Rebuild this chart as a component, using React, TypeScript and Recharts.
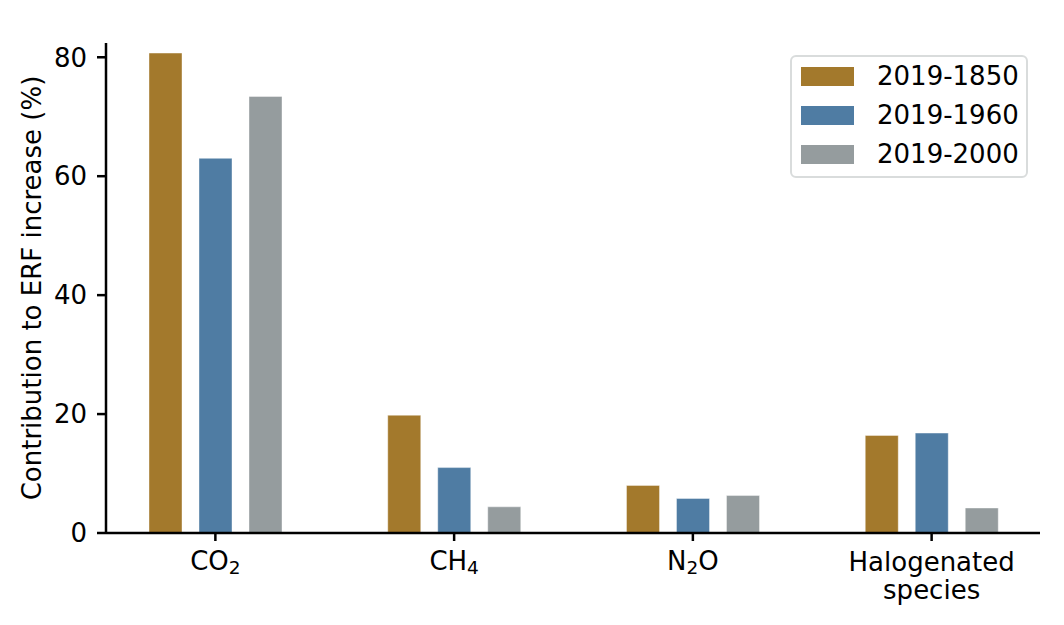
import { BarChart, Bar, XAxis, YAxis, Legend, Label } from "recharts";

const categories = ["CO2", "CH4", "N2O", "Halogenated species"];
const erf1850 = [80.7, 19.8, 8.0, 16.4];
const erf1960 = [63.0, 11.0, 5.8, 16.8];
const erf2000 = [73.4, 4.4, 6.3, 4.2];
const periods = ["2019-1850", "2019-1960", "2019-2000"];
const colors = ["#a3792c", "#4f7ca3", "#959c9e"];
const yTicks = [0, 20, 40, 60, 80];

const FONT = "'DejaVu Sans', sans-serif";
const FS = 26;

const data = categories.map((name, i) => ({
  name,
  p1850: erf1850[i],
  p1960: erf1960[i],
  p2000: erf2000[i],
}));
const keys = ["p1850", "p1960", "p2000"];

function CategoryTick(props: any) {
  const { x, y, payload } = props;
  const label: string = payload.value;
  if (label.includes(" ")) {
    const lines = label.split(" ");
    return (
      <g transform={`translate(${x},${y})`}>
        {lines.map((ln, i) => (
          <text
            key={ln}
            x={0}
            y={30 + i * 28}
            textAnchor="middle"
            fontFamily={FONT}
            fontSize={FS}
            fill="#000"
          >
            {ln}
          </text>
        ))}
      </g>
    );
  }
  // digits in the formula are drawn as subscripts
  const parts = label.match(/[A-Za-z]+|\d+/g) || [];
  return (
    <g transform={`translate(${x},${y})`}>
      <text x={0} y={29} textAnchor="middle" fontFamily={FONT} fontSize={FS} fill="#000">
        {parts.map((p, i) =>
          /\d/.test(p) ? (
            <tspan key={i} fontSize={18.5} dy={4}>
              {p}
            </tspan>
          ) : (
            <tspan key={i} dy={i > 0 ? -4 : 0}>
              {p}
            </tspan>
          )
        )}
      </text>
    </g>
  );
}

function LegendBox() {
  return (
    <div
      style={{
        width: 234,
        height: 119,
        border: "2px solid #d9dcdc",
        borderRadius: 6,
        background: "#fff",
        boxSizing: "content-box",
        position: "relative",
        fontFamily: FONT,
        fontSize: FS,
      }}
    >
      {periods.map((p, i) => (
        <div
          key={p}
          style={{
            position: "absolute",
            left: 9,
            top: 10 + i * 39,
            display: "flex",
            alignItems: "center",
            height: 19,
          }}
        >
          <div style={{ width: 53, height: 19, background: colors[i] }} />
          <span style={{ marginLeft: 23, color: "#000", lineHeight: "19px" }}>{p}</span>
        </div>
      ))}
    </div>
  );
}

export default function App() {
  return (
    <div style={{ width: 1064, height: 625, background: "#fff" }}>
      <style>{`body{margin:0}`}</style>
      <BarChart
        width={1064}
        height={625}
        data={data}
        margin={{ top: 43, right: 24, bottom: 12, left: 0 }}
        barSize={33}
        barGap={17}
      >
        <XAxis
          dataKey="name"
          height={80}
          padding={{ left: -10, right: -11 }}
          axisLine={{ stroke: "#000", strokeWidth: 2.5 }}
          tickLine={{ stroke: "#000", strokeWidth: 2.5 }}
          tickSize={8}
          tickMargin={0}
          tick={<CategoryTick />}
          interval={0}
        />
        <YAxis
          width={106}
          domain={[0, 82.4]}
          ticks={yTicks}
          axisLine={{ stroke: "#000", strokeWidth: 2.5 }}
          tickLine={{ stroke: "#000", strokeWidth: 2.5 }}
          tickSize={9}
          tickMargin={10}
          tick={{ fill: "#000", fontSize: FS, fontFamily: FONT }}
        >
          <Label
            content={(p: any) => {
              const vb = p.viewBox;
              const cy = vb.y + vb.height / 2;
              return (
                <text
                  x={41}
                  y={cy}
                  transform={`rotate(-90, 41, ${cy})`}
                  textAnchor="middle"
                  fontFamily={FONT}
                  fontSize={FS}
                  fill="#000"
                >
                  Contribution to ERF increase (%)
                </text>
              );
            }}
          />
        </YAxis>
        <Legend
          layout="vertical"
          align="center"
          verticalAlign="middle"
          wrapperStyle={{ top: 55, left: 790, width: 238 }}
          content={() => <LegendBox />}
        />
        {keys.map((k, i) => (
          <Bar
            key={k}
            dataKey={k}
            name={periods[i]}
            fill={colors[i]}
            stroke="#ffffff"
            strokeOpacity={0.4}
            strokeWidth={1}
            isAnimationActive={false}
          />
        ))}
      </BarChart>
    </div>
  );
}
